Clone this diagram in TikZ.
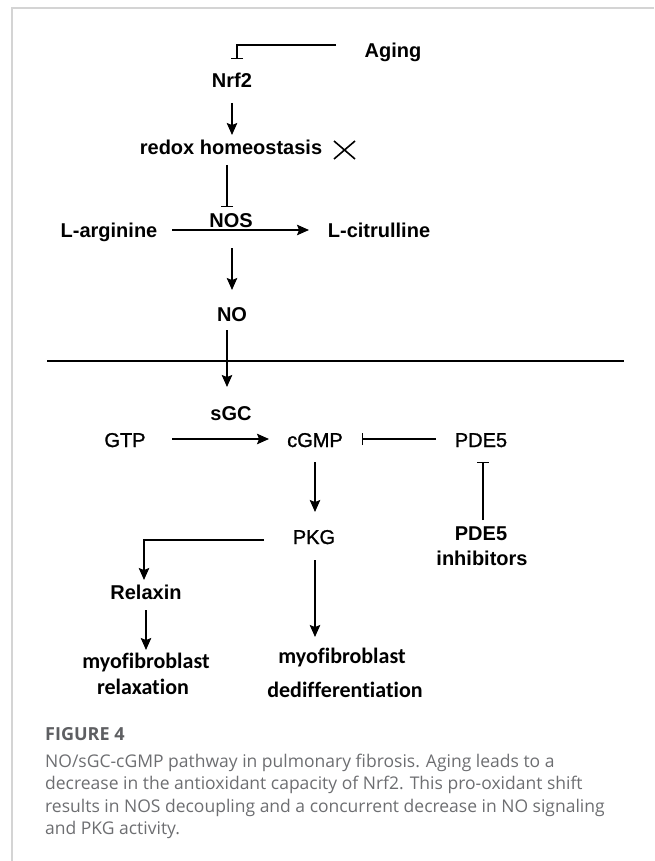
\documentclass[tikz,border=0pt]{standalone}
\usepackage{fontspec}
\setmainfont{Liberation Sans}
\newfontfamily\medfont[FakeBold=1.2]{Liberation Sans}
\newfontfamily\carl[Ligatures=NoCommon]{Carlito}
\newfontfamily\capfont{Open Sans}
\usetikzlibrary{arrows.meta}
\definecolor{capgray}{HTML}{6D6E71}
\definecolor{figgray}{HTML}{5E5F62}
\definecolor{framegray}{HTML}{D4D4D4}
\tikzset{
  lbl/.style={anchor=base, inner sep=0pt, font=\fontsize{20}{24}\selectfont\bfseries},
  lblr/.style={anchor=base, inner sep=0pt, font=\fontsize{20}{24}\selectfont\medfont},
  lblc/.style={anchor=base, inner sep=0pt, font=\fontsize{22}{26}\selectfont\carl\bfseries},
  captxt/.style={anchor=base west, inner sep=0pt, text=capgray, font=\fontsize{17.5}{22}\selectfont\capfont},
  arr/.style={line width=1.3pt, -{Stealth[length=12pt,width=10.5pt,inset=2pt]}},
  inh/.style={line width=1.2pt, -{Bar[width=12pt,line width=1.3pt]}},
}
\begin{document}
\begin{tikzpicture}[x=1pt,y=-1pt]
\useasboundingbox (0,0) rectangle (654,861);
% frame
\coordinate (ftl) at (12,8);
\coordinate (ftr) at (654,8);
\coordinate (fbl) at (12,861);
\draw[framegray, line width=2pt] (fbl) -- (ftl) -- (ftr);

% upper part
\node[lbl] (aging) at (393,57.5) {Aging};
\node[lbl] (nrf2) at (232,88) {Nrf2};
\node[lbl] (redox) at (231,155) {redox homeostasis};
\node[lbl] (nos) at (231,227) {NOS};
\node[lbl] (larg) at (109,237) {L-arginine};
\node[lbl] (lcit) at (379,237) {L-citrulline};
\node[lbl] (no) at (232,321) {NO};

\draw[line width=1.6pt] (334,141) -- (355,159);
\draw[line width=1.6pt] (334,159) -- (355,141);

\draw[inh] ([xshift=-57pt,yshift=12.5pt]aging.base) -| ([xshift=5pt,yshift=29pt]nrf2.base);
\draw[arr] ([yshift=-15pt]nrf2.base) -- ([xshift=1pt,yshift=20pt]redox.base);
\draw[inh] ([xshift=-4pt,yshift=-10pt]redox.base) -- ([xshift=-4pt,yshift=20pt]nos.base);
\draw[arr] ([xshift=63pt,yshift=7pt]larg.base) -- ([xshift=-70pt,yshift=7pt]lcit.base);
\draw[arr] ([xshift=1pt,yshift=-21pt]nos.base) -- ([yshift=31pt]no.base);

% membrane
\coordinate (meml) at (47,361);
\coordinate (memr) at (624,361);
\draw[line width=1.4pt] (meml) -- (memr);

% lower part
\node[lbl] (sgc) at (231,420) {sGC};
\node[lblr] (gtp) at (125,447) {GTP};
\node[lblr] (cgmp) at (315,447) {cGMP};
\node[lblr] (pde5) at (481,447) {PDE5};
\node[lblr] (pkg) at (314,544) {PKG};
\node[lbl] (pde5i) at (481,540) {PDE5};
\node[lbl] (inhib) at (482,565) {inhibitors};
\node[lbl] (relax) at (146,599) {Relaxin};
\node[lblc] (myo1) at (146,668) {myofibroblast};
\node[lblc] (rlx) at (143,694) {relaxation};
\node[lblc] (myo2) at (342,663) {myofibroblast};
\node[lblc] (dedif) at (345,697) {dedifferentiation};

\draw[arr] ([xshift=-5pt,yshift=-9pt]no.base) -- ([xshift=-4pt,yshift=33pt]sgc.base);
\draw[arr] ([xshift=47pt,yshift=8pt]gtp.base) -- ([xshift=-46pt,yshift=8pt]cgmp.base);
\draw[inh] ([xshift=-45pt,yshift=8pt]pde5.base) -- ([xshift=47pt,yshift=8pt]cgmp.base);
\draw[arr] ([yshift=-15pt]cgmp.base) -- ([xshift=1pt,yshift=32pt]pkg.base);
\draw[inh] ([xshift=2pt,yshift=20pt]pde5i.base) -- ([xshift=2pt,yshift=-15pt]pde5.base);
\draw[arr] ([xshift=-50pt,yshift=4pt]pkg.base) -| ([xshift=-2pt,yshift=19pt]relax.base);
\draw[arr] ([yshift=-11pt]relax.base) -- ([yshift=18pt]myo1.base);
\draw[arr] ([xshift=1pt,yshift=-16pt]pkg.base) -- ([xshift=-27pt,yshift=26pt]myo2.base);

% caption
\node[anchor=base west, inner sep=0pt, text=figgray, font=\fontsize{18}{22}\selectfont\capfont\bfseries] (fig) at (45,740) {FIGURE 4};
\node[captxt] (c1) at (45,767) {NO/sGC-cGMP pathway in pulmonary fibrosis. Aging leads to a};
\node[captxt] (c2) at (45,789.5) {decrease in the antioxidant capacity of Nrf2. This pro-oxidant shift};
\node[captxt] (c3) at (45,812) {results in NOS decoupling and a concurrent decrease in NO signaling};
\node[captxt] (c4) at (45,834.5) {and PKG activity.};
\end{tikzpicture}
\end{document}
